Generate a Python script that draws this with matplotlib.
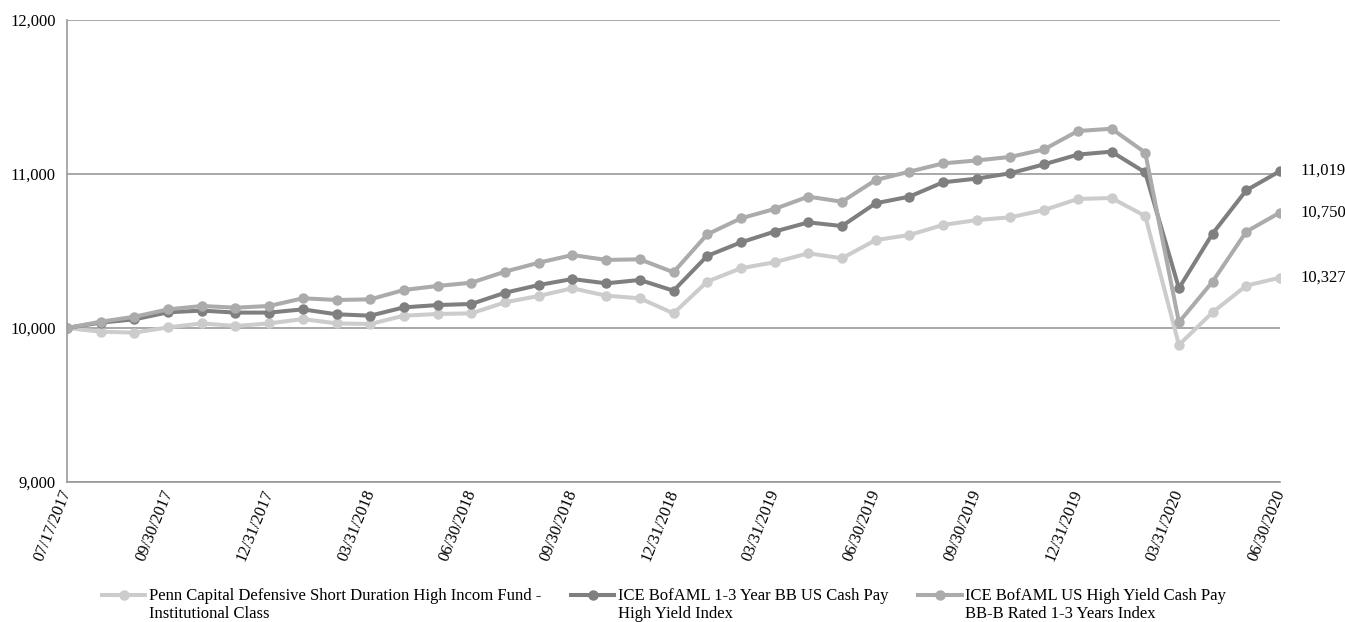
import matplotlib
matplotlib.use("Agg")
import matplotlib.pyplot as plt
import matplotlib.transforms as mtransforms
from matplotlib.lines import Line2D
import pandas as pd

plt.rcParams['font.family'] = ['Liberation Serif', 'DejaVu Serif']

# Month-end observation dates (inception 07/17/2017)
dates = ["07/17/2017"] + [d.strftime("%m/%d/%Y") for d in
                          pd.date_range("2017-07-31", "2020-06-30", freq="ME")]

fund = [10000, 9976, 9970, 10004, 10030, 10013, 10030, 10058, 10030, 10026,
        10080, 10091, 10095, 10167, 10208, 10258, 10210, 10193, 10095, 10301,
        10388, 10427, 10485, 10453, 10571, 10604, 10669, 10701, 10719, 10766,
        10838, 10844, 10727, 9890, 10102, 10275, 10327]
bb_index = [10000, 10035, 10056, 10102, 10113, 10100, 10100, 10121, 10089, 10080,
            10134, 10149, 10156, 10229, 10279, 10318, 10290, 10312, 10242, 10468,
            10556, 10626, 10686, 10662, 10810, 10853, 10946, 10970, 11005, 11063,
            11126, 11145, 11010, 10258, 10613, 10894, 11019]
bbb_index = [10000, 10041, 10073, 10121, 10143, 10132, 10143, 10193, 10182, 10186,
             10247, 10273, 10294, 10366, 10424, 10474, 10442, 10446, 10362, 10608,
             10712, 10773, 10853, 10820, 10961, 11015, 11069, 11088, 11111, 11160,
             11279, 11294, 11139, 10037, 10301, 10626, 10750]

# Legend labels: (first line, second line)
series_names = [
    ("Penn Capital Defensive Short Duration High Incom Fund -", "Institutional Class"),
    ("ICE BofAML 1-3 Year BB US Cash Pay", "High Yield Index"),
    ("ICE BofAML US High Yield Cash Pay", "BB-B Rated 1-3 Years Index"),
]
series_values = [fund, bb_index, bbb_index]
colors = ["#cccccc", "#7f7f7f", "#ababab"]

y_ticks = [9000, 10000, 11000, 12000]

fig = plt.figure(figsize=(13.45, 6.22), dpi=100)
ax = fig.add_axes([67/1345, 1 - 482/622, (1280 - 67)/1345, (482 - 20)/622])

x = list(range(len(dates)))
lines = []
for name, vals, c in zip(series_names, series_values, colors):
    ln, = ax.plot(x, vals, color=c, lw=2.9, marker='o', ms=7.5,
                  markeredgewidth=0, solid_joinstyle='round')
    lines.append(ln)
    ax.text(x[-1] + 0.6, vals[-1], f"{vals[-1]:,}", va='center', ha='left',
            fontsize=12, color='#000000')

ax.set_xlim(0, len(dates) - 1)
ax.set_ylim(9000, 12000)
ax.set_yticks(y_ticks)
ax.set_yticklabels([f"{v:,}" for v in y_ticks], fontsize=12)
ax.yaxis.grid(True, color='#999999', lw=1.2)
ax.set_axisbelow(True)

tick_idx = list(range(0, len(dates), 3))
ax.set_xticks(tick_idx)
ax.set_xticklabels([dates[i] for i in tick_idx], rotation=68, ha='right',
                   rotation_mode='anchor', fontsize=12)
ax.tick_params(axis='y', length=0, pad=8)
ax.tick_params(axis='x', length=0, pad=4)
shift = mtransforms.ScaledTranslation(-7/100, 0, fig.dpi_scale_trans)
for lbl in ax.get_xticklabels():
    lbl.set_transform(lbl.get_transform() + shift)

for s in ['top', 'right']:
    ax.spines[s].set_visible(False)
for s in ['left', 'bottom']:
    ax.spines[s].set_color('#999999')
    ax.spines[s].set_linewidth(1.2)

# Legend: each entry takes two rows, the handle sits beside the first line
blank = Line2D([], [], lw=0, marker=None)
handles, labels = [], []
for ln, (first, second) in zip(lines, series_names):
    handles += [ln, blank]
    labels += [first, second]

fig.legend(handles=handles, labels=labels, loc='lower left',
           bbox_to_anchor=(102/1345, 0.0), ncol=3, frameon=False,
           fontsize=12, handlelength=2.6, handletextpad=0.2,
           columnspacing=1.8, labelspacing=0.1, borderpad=0,
           borderaxespad=0)

fig.savefig("out.png", dpi=100)
